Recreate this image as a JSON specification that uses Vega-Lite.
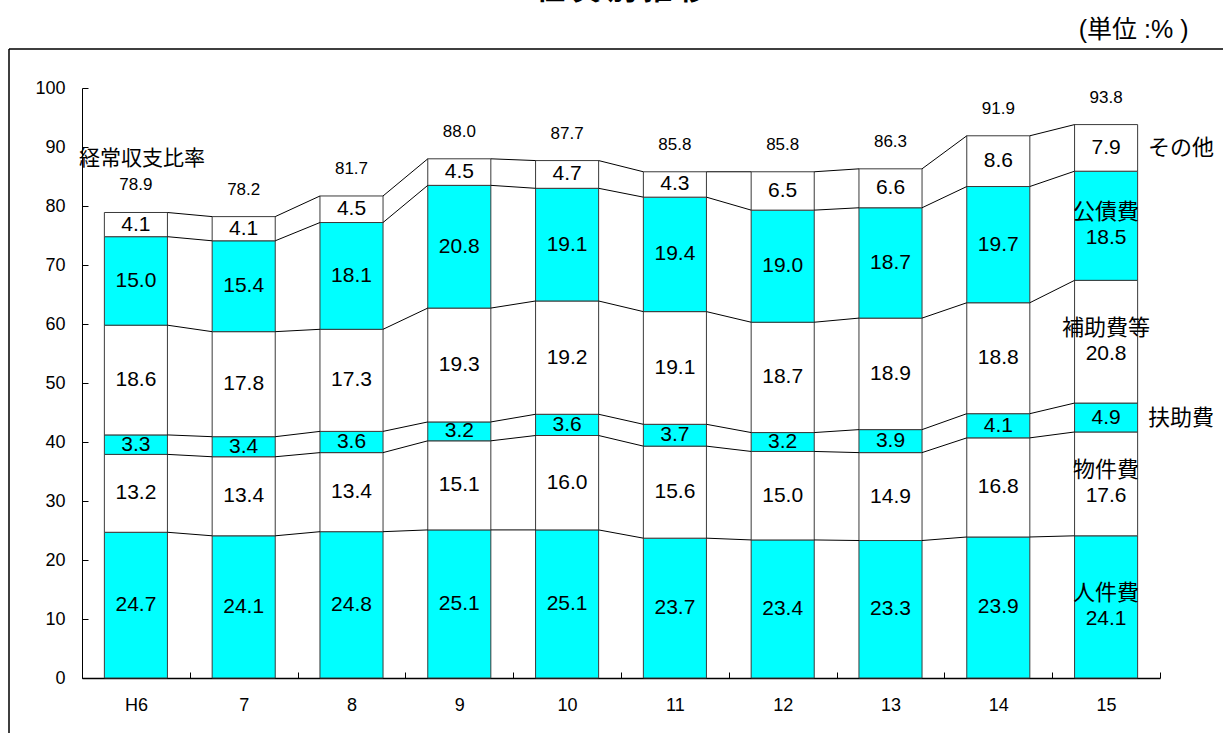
{
  "$schema": "https://vega.github.io/schema/vega-lite/v6.json",
  "autosize": {"type": "none"},
  "padding": {"left": 9, "top": 49, "right": 0, "bottom": 0},
  "width": 1214,
  "height": 684,
  "background": "white",
  "title": {
    "text": "性 質 別 推 移",
    "font": "Noto Sans CJK JP",
    "fontSize": 29,
    "fontWeight": "bold",
    "color": "black",
    "anchor": "middle",
    "frame": "group",
    "offset": 11,
    "dx": 6
  },
  "config": {
    "view": {"stroke": "black", "strokeWidth": 1.5, "strokeDash": [1214, 1898, 684, 0]},
    "axis": {"labelColor": "black", "domainColor": "black", "tickColor": "black", "grid": false}
  },
  "data": {
    "values": [
      {"yr": "H6", "n": 6, "cat": "人件費", "k": 1, "v": 24.7},
      {"yr": "H6", "n": 6, "cat": "物件費", "k": 2, "v": 13.2},
      {"yr": "H6", "n": 6, "cat": "扶助費", "k": 3, "v": 3.3},
      {"yr": "H6", "n": 6, "cat": "補助費等", "k": 4, "v": 18.6},
      {"yr": "H6", "n": 6, "cat": "公債費", "k": 5, "v": 15.0},
      {"yr": "H6", "n": 6, "cat": "その他", "k": 6, "v": 4.1},
      {"yr": "7", "n": 7, "cat": "人件費", "k": 1, "v": 24.1},
      {"yr": "7", "n": 7, "cat": "物件費", "k": 2, "v": 13.4},
      {"yr": "7", "n": 7, "cat": "扶助費", "k": 3, "v": 3.4},
      {"yr": "7", "n": 7, "cat": "補助費等", "k": 4, "v": 17.8},
      {"yr": "7", "n": 7, "cat": "公債費", "k": 5, "v": 15.4},
      {"yr": "7", "n": 7, "cat": "その他", "k": 6, "v": 4.1},
      {"yr": "8", "n": 8, "cat": "人件費", "k": 1, "v": 24.8},
      {"yr": "8", "n": 8, "cat": "物件費", "k": 2, "v": 13.4},
      {"yr": "8", "n": 8, "cat": "扶助費", "k": 3, "v": 3.6},
      {"yr": "8", "n": 8, "cat": "補助費等", "k": 4, "v": 17.3},
      {"yr": "8", "n": 8, "cat": "公債費", "k": 5, "v": 18.1},
      {"yr": "8", "n": 8, "cat": "その他", "k": 6, "v": 4.5},
      {"yr": "9", "n": 9, "cat": "人件費", "k": 1, "v": 25.1},
      {"yr": "9", "n": 9, "cat": "物件費", "k": 2, "v": 15.1},
      {"yr": "9", "n": 9, "cat": "扶助費", "k": 3, "v": 3.2},
      {"yr": "9", "n": 9, "cat": "補助費等", "k": 4, "v": 19.3},
      {"yr": "9", "n": 9, "cat": "公債費", "k": 5, "v": 20.8},
      {"yr": "9", "n": 9, "cat": "その他", "k": 6, "v": 4.5},
      {"yr": "10", "n": 10, "cat": "人件費", "k": 1, "v": 25.1},
      {"yr": "10", "n": 10, "cat": "物件費", "k": 2, "v": 16.0},
      {"yr": "10", "n": 10, "cat": "扶助費", "k": 3, "v": 3.6},
      {"yr": "10", "n": 10, "cat": "補助費等", "k": 4, "v": 19.2},
      {"yr": "10", "n": 10, "cat": "公債費", "k": 5, "v": 19.1},
      {"yr": "10", "n": 10, "cat": "その他", "k": 6, "v": 4.7},
      {"yr": "11", "n": 11, "cat": "人件費", "k": 1, "v": 23.7},
      {"yr": "11", "n": 11, "cat": "物件費", "k": 2, "v": 15.6},
      {"yr": "11", "n": 11, "cat": "扶助費", "k": 3, "v": 3.7},
      {"yr": "11", "n": 11, "cat": "補助費等", "k": 4, "v": 19.1},
      {"yr": "11", "n": 11, "cat": "公債費", "k": 5, "v": 19.4},
      {"yr": "11", "n": 11, "cat": "その他", "k": 6, "v": 4.3},
      {"yr": "12", "n": 12, "cat": "人件費", "k": 1, "v": 23.4},
      {"yr": "12", "n": 12, "cat": "物件費", "k": 2, "v": 15.0},
      {"yr": "12", "n": 12, "cat": "扶助費", "k": 3, "v": 3.2},
      {"yr": "12", "n": 12, "cat": "補助費等", "k": 4, "v": 18.7},
      {"yr": "12", "n": 12, "cat": "公債費", "k": 5, "v": 19.0},
      {"yr": "12", "n": 12, "cat": "その他", "k": 6, "v": 6.5},
      {"yr": "13", "n": 13, "cat": "人件費", "k": 1, "v": 23.3},
      {"yr": "13", "n": 13, "cat": "物件費", "k": 2, "v": 14.9},
      {"yr": "13", "n": 13, "cat": "扶助費", "k": 3, "v": 3.9},
      {"yr": "13", "n": 13, "cat": "補助費等", "k": 4, "v": 18.9},
      {"yr": "13", "n": 13, "cat": "公債費", "k": 5, "v": 18.7},
      {"yr": "13", "n": 13, "cat": "その他", "k": 6, "v": 6.6},
      {"yr": "14", "n": 14, "cat": "人件費", "k": 1, "v": 23.9},
      {"yr": "14", "n": 14, "cat": "物件費", "k": 2, "v": 16.8},
      {"yr": "14", "n": 14, "cat": "扶助費", "k": 3, "v": 4.1},
      {"yr": "14", "n": 14, "cat": "補助費等", "k": 4, "v": 18.8},
      {"yr": "14", "n": 14, "cat": "公債費", "k": 5, "v": 19.7},
      {"yr": "14", "n": 14, "cat": "その他", "k": 6, "v": 8.6},
      {"yr": "15", "n": 15, "cat": "人件費", "k": 1, "v": 24.1},
      {"yr": "15", "n": 15, "cat": "物件費", "k": 2, "v": 17.6},
      {"yr": "15", "n": 15, "cat": "扶助費", "k": 3, "v": 4.9},
      {"yr": "15", "n": 15, "cat": "補助費等", "k": 4, "v": 20.8},
      {"yr": "15", "n": 15, "cat": "公債費", "k": 5, "v": 18.5},
      {"yr": "15", "n": 15, "cat": "その他", "k": 6, "v": 7.9}
    ]
  },
  "transform": [
    {"stack": "v", "groupby": ["yr"], "sort": [{"field": "k"}], "as": ["y0", "y1"]}
  ],
  "layer": [
    {
      "mark": {"type": "bar", "width": {"band": 0.585}, "stroke": "#3a3a3a", "strokeWidth": 1},
      "encoding": {
        "x": {
          "field": "yr",
          "type": "nominal",
          "scale": {
            "domain": ["H6", "7", "8", "9", "10", "11", "12", "13", "14", "15"],
            "range": [73, 1151],
            "paddingInner": 0,
            "paddingOuter": 0
          },
          "axis": {
            "title": null,
            "offset": -55,
            "labelAngle": 0,
            "tickBand": "extent",
            "tickSize": -6,
            "domainWidth": 1.5,
            "labelFont": "Liberation Sans",
            "labelFontSize": 18,
            "labelPadding": 24
          }
        },
        "y": {
          "field": "y0",
          "type": "quantitative",
          "scale": {"domain": [0, 100], "range": [629, 39], "nice": false},
          "axis": {
            "values": [0, 10, 20, 30, 40, 50, 60, 70, 80, 90, 100],
            "offset": -73,
            "tickSize": -6,
            "labelFont": "Liberation Sans",
            "labelFontSize": 18,
            "labelPadding": 23,
            "title": "(単位 :% )",
            "titleAngle": 0,
            "titleX": 1106,
            "titleY": -20,
            "titleAlign": "right",
            "titleBaseline": "middle",
            "titleFont": "Liberation Sans, Noto Sans CJK JP",
            "titleFontSize": 25,
            "titleFontWeight": "normal",
            "titleColor": "black"
          }
        },
        "y2": {"field": "y1"},
        "color": {
          "field": "cat",
          "type": "nominal",
          "legend": null,
          "scale": {
            "domain": ["人件費", "物件費", "扶助費", "補助費等", "公債費", "その他"],
            "range": ["#00FFFF", "#FFFFFF", "#00FFFF", "#FFFFFF", "#00FFFF", "#FFFFFF"]
          }
        }
      }
    },
    {
      "transform": [
        {
          "window": [
            {"op": "lead", "field": "y1", "as": "y1n"},
            {"op": "lead", "field": "yr", "as": "yrn"}
          ],
          "groupby": ["cat"],
          "sort": [{"field": "n"}]
        },
        {"filter": "datum.yrn != null"}
      ],
      "mark": {"type": "rule", "color": "black", "strokeWidth": 1, "xOffset": 31.5, "x2Offset": -31.5},
      "encoding": {
        "x": {"field": "yr", "type": "nominal"},
        "x2": {"field": "yrn"},
        "y": {"field": "y1", "type": "quantitative"},
        "y2": {"field": "y1n"}
      }
    },
    {
      "transform": [
        {"fold": ["y0", "y1"], "as": ["edge", "pos"]},
        {"aggregate": [{"op": "mean", "field": "pos", "as": "mid"}], "groupby": ["yr", "n", "cat", "v"]},
        {"filter": "!(datum.yr == '15' && datum.cat != 'その他' && datum.cat != '扶助費')"}
      ],
      "mark": {"type": "text", "font": "Liberation Sans", "fontSize": 21, "color": "black", "baseline": "middle"},
      "encoding": {
        "x": {"field": "yr", "type": "nominal"},
        "y": {"field": "mid", "type": "quantitative"},
        "text": {"field": "v", "type": "quantitative", "format": ".1f"}
      }
    },
    {
      "transform": [
        {"fold": ["y0", "y1"], "as": ["edge", "pos"]},
        {"aggregate": [{"op": "mean", "field": "pos", "as": "mid"}], "groupby": ["yr", "n", "cat", "v"]},
        {"filter": "datum.yr == '15' && datum.cat != 'その他' && datum.cat != '扶助費'"}
      ],
      "mark": {"type": "text", "font": "Liberation Sans", "fontSize": 21, "color": "black", "baseline": "middle", "dy": 12},
      "encoding": {
        "x": {"field": "yr", "type": "nominal"},
        "y": {"field": "mid", "type": "quantitative"},
        "text": {"field": "v", "type": "quantitative", "format": ".1f"}
      }
    },
    {
      "transform": [
        {"fold": ["y0", "y1"], "as": ["edge", "pos"]},
        {"aggregate": [{"op": "mean", "field": "pos", "as": "mid"}], "groupby": ["yr", "n", "cat", "v"]},
        {"filter": "datum.yr == '15' && datum.cat != 'その他' && datum.cat != '扶助費'"}
      ],
      "mark": {"type": "text", "font": "Noto Sans CJK JP", "fontSize": 22, "color": "black", "baseline": "middle", "dy": -14},
      "encoding": {
        "x": {"field": "yr", "type": "nominal"},
        "y": {"field": "mid", "type": "quantitative"},
        "text": {"field": "cat", "type": "nominal"}
      }
    },
    {
      "transform": [
        {"fold": ["y0", "y1"], "as": ["edge", "pos"]},
        {"aggregate": [{"op": "mean", "field": "pos", "as": "mid"}], "groupby": ["yr", "n", "cat", "v"]},
        {"filter": "datum.yr == '15' && (datum.cat == 'その他' || datum.cat == '扶助費')"}
      ],
      "mark": {"type": "text", "font": "Noto Sans CJK JP", "fontSize": 22, "color": "black", "baseline": "middle", "align": "left", "dx": 42},
      "encoding": {
        "x": {"field": "yr", "type": "nominal"},
        "y": {"field": "mid", "type": "quantitative"},
        "text": {"field": "cat", "type": "nominal"}
      }
    },
    {
      "transform": [
        {"aggregate": [{"op": "sum", "field": "v", "as": "total"}], "groupby": ["yr"]}
      ],
      "mark": {"type": "text", "font": "Liberation Sans", "fontSize": 17, "color": "black", "baseline": "middle", "dy": -27},
      "encoding": {
        "x": {"field": "yr", "type": "nominal"},
        "y": {"field": "total", "type": "quantitative"},
        "text": {"field": "total", "type": "quantitative", "format": ".1f"}
      }
    },
    {
      "transform": [
        {"filter": "datum.yr == 'H6'"},
        {"aggregate": [{"op": "sum", "field": "v", "as": "total"}], "groupby": ["yr"]}
      ],
      "mark": {"type": "text", "text": "経常収支比率", "font": "Noto Sans CJK JP", "fontSize": 21, "color": "black", "baseline": "middle", "dy": -53, "dx": 6},
      "encoding": {
        "x": {"field": "yr", "type": "nominal"},
        "y": {"field": "total", "type": "quantitative"}
      }
    }
  ]
}
